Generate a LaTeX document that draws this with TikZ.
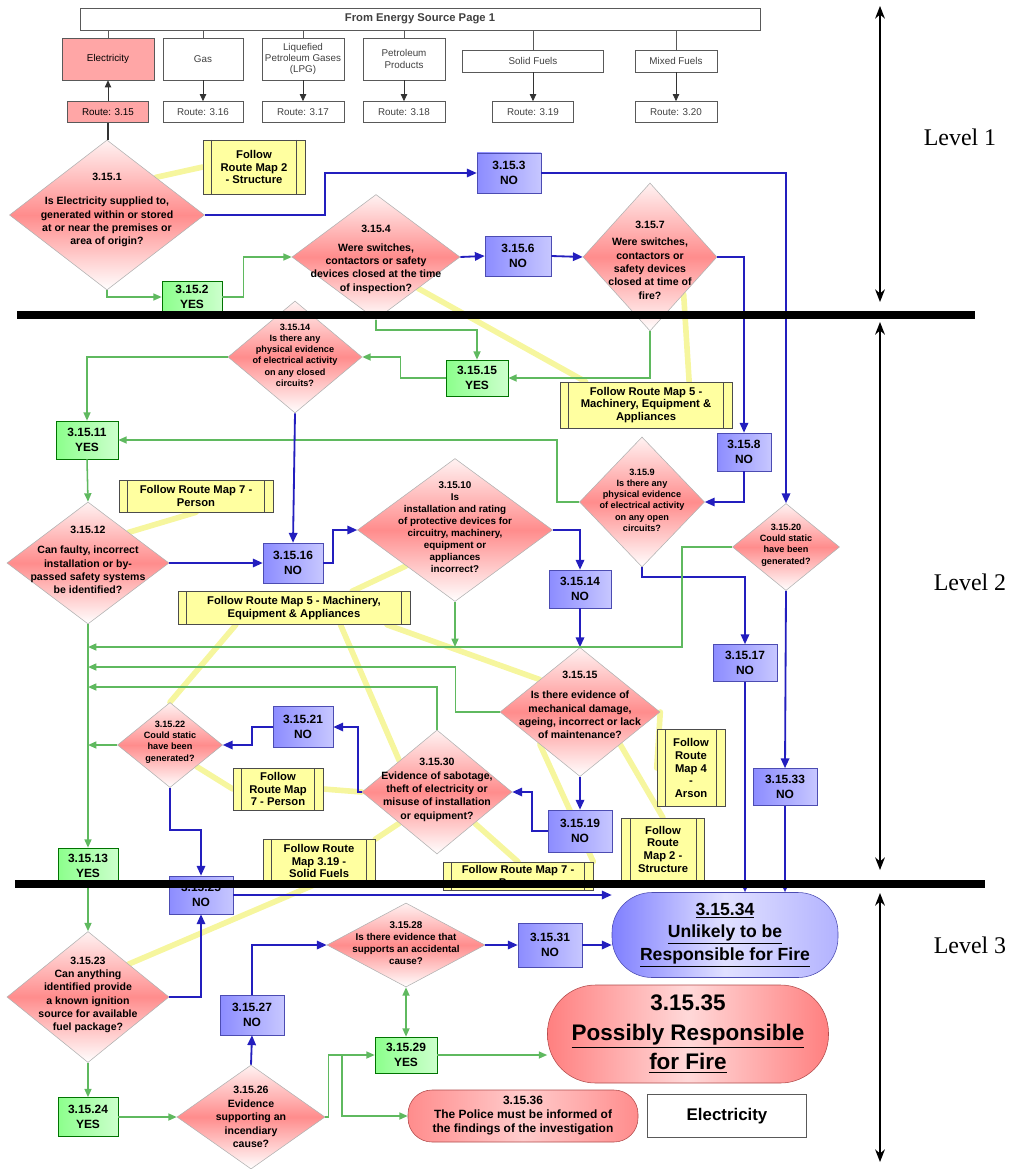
\documentclass[tikz,border=0pt]{standalone}
\usepackage{fontspec}
\setmainfont{Liberation Sans}
\newfontfamily\serifface{Liberation Serif}
\usepackage{tikz}
\usetikzlibrary{shapes.geometric, arrows.meta, calc, backgrounds}

\definecolor{lineblue}{RGB}{35,30,190}
\definecolor{linegreen}{RGB}{95,185,95}
\definecolor{mapyellow}{RGB}{255,255,160}
\definecolor{glowyellow}{RGB}{235,235,40}
\tikzset{sz/.style 2 args={minimum width=#1*0.025cm, minimum height=#2*0.025cm}}

\begin{document}
\begin{tikzpicture}[x=0.025cm, y=-0.025cm]
\tikzstyle{dia}=[diamond, draw=gray!60, inner sep=0pt, top color=red!5, bottom color=white, middle color=red!45]
\tikzstyle{dtext}=[align=center, inner sep=0pt, font=\fontsize{7.5}{9.5}\selectfont\bfseries]
\tikzstyle{srcbox}=[draw=gray!70!black, fill=white, inner sep=1pt, align=center, text=black!75, font=\fontsize{7}{8}\selectfont]
\tikzstyle{nobox}=[draw=gray!60!blue, left color=blue!45!white, right color=blue!22!white, inner sep=0pt, align=center, font=\fontsize{8.5}{10.5}\selectfont\bfseries]
\tikzstyle{yesbox}=[draw=green!45!black, left color=green!45!white, right color=green!20!white, inner sep=0pt, align=center, font=\fontsize{8.5}{10.5}\selectfont\bfseries]
\tikzstyle{mapbox}=[draw=gray!60!black, fill=mapyellow, inner sep=0pt, align=center, font=\fontsize{8}{9}\selectfont\bfseries, path picture={\draw[gray!60!black] ([xshift=6pt]path picture bounding box.north west) -- ([xshift=6pt]path picture bounding box.south west) ([xshift=-6pt]path picture bounding box.north east) -- ([xshift=-6pt]path picture bounding box.south east);}]
\tikzstyle{bl}=[draw=lineblue, line width=1.3pt, -{Triangle[length=7pt,width=6pt]}]
\tikzstyle{gr}=[draw=linegreen, line width=1.1pt, -{Triangle[length=6pt,width=5pt]}]
\tikzstyle{yl}=[draw=glowyellow, line width=4pt, opacity=0.45, line cap=round]
\tikzstyle{blk}=[draw=black!80, line width=0.6pt, -{Triangle[length=5pt,width=4.5pt]}]
\tikzstyle{lvl}=[font=\serifface\fontsize{17}{20}\selectfont]
\useasboundingbox (0,0) rectangle (1022,1169);

\node[srcbox, sz={680}{22}, font=\fontsize{8}{9}\selectfont\bfseries](src) at (420,19) {From Energy Source Page 1};
\node[srcbox, sz={92}{42}, fill=red!35, text=black](elec) at (108,59) {Electricity};
\node[srcbox, sz={80}{42}](gas) at (203,59) {Gas};
\node[srcbox, sz={82}{42}](lpg) at (303,59) {Liquefied\\Petroleum Gases\\(LPG)};
\node[srcbox, sz={82}{42}](petro) at (404,59) {Petroleum\\Products};
\node[srcbox, sz={141}{22}](solid) at (533,61) {Solid Fuels};
\node[srcbox, sz={82}{22}](mixed) at (676,61) {Mixed Fuels};
\node[srcbox, sz={81}{21}, fill=red!35, text=black](r15) at (108,112) {Route: 3.15};
\node[srcbox, sz={80}{21}](r16) at (203,112) {Route: 3.16};
\node[srcbox, sz={82}{21}](r17) at (303,112) {Route: 3.17};
\node[srcbox, sz={82}{21}](r18) at (404,112) {Route: 3.18};
\node[srcbox, sz={81}{21}](r19) at (533,112) {Route: 3.19};
\node[srcbox, sz={82}{21}](r20) at (676,112) {Route: 3.20};

\node[dia, sz={195}{150}](q1) at (107,215) {};
\node[dtext](q1t) at (107,210) {3.15.1\\[8pt]Is Electricity supplied to,\\generated within or stored\\at or near the premises or\\area of origin?};
\node[dia, sz={168}{125}](q4) at (376,257) {};
\node[dtext](q4t) at (376,259) {3.15.4\\[4pt]Were switches,\\contactors or safety\\devices closed at the time\\of inspection?};
\node[dia, sz={134}{148}](q7) at (650,257) {};
\node[dtext](q7t) at (650,260) {3.15.7\\[3pt]Were switches,\\contactors or\\safety devices\\closed at time of\\fire?};
\node[dia, sz={134}{112}](q14) at (295,357) {};
\node[dtext, font=\fontsize{6.5}{8}\selectfont\bfseries](q14t) at (295,355) {3.15.14\\Is there any\\physical evidence\\of electrical activity\\on any closed\\circuits?};
\node[dia, sz={125}{130}](q9) at (642,502) {};
\node[dtext, font=\fontsize{6.5}{8}\selectfont\bfseries](q9t) at (642,500) {3.15.9\\Is there any\\physical evidence\\of electrical activity\\on any open\\circuits?};
\node[dia, sz={162}{122}](q12) at (88,563) {};
\node[dtext](q12t) at (88,560) {3.15.12\\[5pt]Can faulty, incorrect\\installation or by-\\passed safety systems\\be identified?};
\node[dia, sz={195}{143}](q10) at (455,530) {};
\node[dtext, font=\fontsize{7}{8.6}\selectfont\bfseries](q10t) at (455,527) {3.15.10\\Is\\installation and rating\\of protective devices for\\circuitry, machinery,\\equipment or\\appliances\\incorrect?};
\node[dia, sz={107}{87}](q20) at (786,547) {};
\node[dtext, font=\fontsize{6.5}{8}\selectfont\bfseries](q20t) at (786,545) {3.15.20\\Could static\\have been\\generated?};
\node[dia, sz={160}{129}](q15) at (580,712) {};
\node[dtext](q15t) at (580,705) {3.15.15\\[5pt]Is there evidence of\\mechanical damage,\\ageing, incorrect or lack\\of maintenance?};
\node[dia, sz={105}{85}](q22) at (170,745) {};
\node[dtext, font=\fontsize{6.5}{8}\selectfont\bfseries](q22t) at (170,742) {3.15.22\\Could static\\have been\\generated?};
\node[dia, sz={150}{124}](q30) at (437,792) {};
\node[dtext](q30t) at (437,790) {3.15.30\\Evidence of sabotage,\\theft of electricity or\\misuse of installation\\or equipment?};
\node[dia, sz={162}{131}](q23) at (88,997) {};
\node[dtext](q23t) at (88,995) {3.15.23\\Can anything\\identified provide\\a known ignition\\source for available\\fuel package?};
\node[dia, sz={158}{84}](q28) at (406,945) {};
\node[dtext, font=\fontsize{7}{8.6}\selectfont\bfseries](q28t) at (406,943) {3.15.28\\Is there evidence that\\supports an accidental\\cause?};
\node[dia, sz={148}{104}](q26) at (251,1117) {};
\node[dtext](q26t) at (251,1117) {3.15.26\\Evidence\\supporting an\\incendiary\\cause?};

\node[nobox, sz={64}{40}](n3) at (509,173) {3.15.3\\NO};
\node[yesbox, sz={60}{32}](y2) at (192,297) {3.15.2\\YES};
\node[nobox, sz={66}{40}](n6) at (518,256) {3.15.6\\NO};
\node[yesbox, sz={62}{36}](y15) at (477,378) {3.15.15\\YES};
\node[nobox, sz={54}{38}](n8) at (744,452) {3.15.8\\NO};
\node[yesbox, sz={62}{38}](y11) at (87,440) {3.15.11\\YES};
\node[nobox, sz={60}{40}](n16) at (293,563) {3.15.16\\NO};
\node[nobox, sz={62}{38}](n14) at (580,589) {3.15.14\\NO};
\node[nobox, sz={64}{37}](n17) at (745,663) {3.15.17\\NO};
\node[nobox, sz={64}{37}](n33) at (785,787) {3.15.33\\NO};
\node[nobox, sz={60}{41}](n21) at (303,727) {3.15.21\\NO};
\node[nobox, sz={64}{42}](n19) at (580,831) {3.15.19\\NO};
\node[yesbox, sz={60}{36}](y13) at (88,866) {3.15.13\\YES};
\node[nobox, sz={64}{38}](n25) at (201,895) {3.15.25\\NO};
\node[nobox, sz={64}{40}](n27) at (252,1015) {3.15.27\\NO};
\node[nobox, sz={64}{44}](n31) at (550,945) {3.15.31\\NO};
\node[yesbox, sz={62}{36}](y29) at (406,1055) {3.15.29\\YES};
\node[yesbox, sz={60}{39}](y24) at (88,1117) {3.15.24\\YES};

\node[mapbox, sz={102}{54}](map2a) at (254,167) {Follow\\Route Map 2\\- Structure};
\node[mapbox, sz={172}{46}](map5a) at (646,405) {Follow Route Map 5 -\\Machinery, Equipment \&\\Appliances};
\node[mapbox, sz={154}{32}](map7a) at (196,496) {Follow Route Map 7 -\\Person};
\node[mapbox, sz={232}{33}](map5b) at (294,608) {Follow Route Map 5 - Machinery,\\Equipment \& Appliances};
\node[mapbox, sz={90}{42}](map7b) at (278,789) {Follow\\Route Map\\7 - Person};
\node[mapbox, sz={68}{77}](map4) at (691,768) {Follow\\Route\\Map 4\\-\\Arson};
\node[mapbox, sz={83}{62}](map2b) at (663,849) {Follow\\Route\\Map 2 -\\Structure};
\node[mapbox, sz={112}{43}](map319) at (319,861) {Follow Route\\Map 3.19 -\\Solid Fuels};
\node[mapbox, sz={150}{28}](map7c) at (518,876) {Follow Route Map 7 -\\Person};

\node[draw=blue!40!gray, rounded corners=1cm, left color=blue!50!white, right color=blue!30!white, middle color=blue!12, sz={226}{85}, align=center, inner sep=0pt, font=\fontsize{12.5}{16}\selectfont\bfseries](end34) at (725,935) {\underline{3.15.34}\\\underline{Unlikely to be}\\\underline{Responsible for Fire}};
\node[draw=red!40!gray, rounded corners=1.2cm, left color=red!50!white, right color=red!50!white, middle color=red!15, sz={281}{98}, align=center, inner sep=0pt, font=\fontsize{16}{21}\selectfont\bfseries](end35) at (688,1034) {3.15.35\\\underline{Possibly Responsible}\\\underline{for Fire}};
\node[draw=red!40!gray, rounded corners=0.6cm, left color=red!45!white, right color=red!45!white, middle color=red!20, sz={230}{52}, align=center, inner sep=0pt, font=\fontsize{8.5}{10}\selectfont\bfseries](end36) at (523,1116) {3.15.36\\The Police must be informed of\\the findings of the investigation};
\node[draw=gray!70!black, fill=white, sz={159}{43}, font=\fontsize{12}{14}\selectfont\bfseries](key) at (727,1116) {Electricity};

\coordinate (t1) at (88,647);
\coordinate (t2) at (88,667);
\coordinate (t3) at (88,687);
\coordinate (t4) at (88,745);
\coordinate (sp) at (342,1055);

\begin{scope}[on background layer]
\draw[yl] (q1.north east) -- (map2a.west);
\draw[yl] (q4.south east) -- ($(map5a.north west)!0.15!(map5a.north east)$);
\draw[yl] (q7.south east) -- ($(map5a.north)!0.5!(map5a.north east)$);
\draw[yl] (q12.north east) -- (map7a.south);
\draw[yl] (q10.south west) -- ($(map5b.north)!0.5!(map5b.north east)$);
\draw[yl] ($(map5b.south)!0.5!(map5b.south west)$) -- (q22.north);
\draw[yl] ($(map5b.south)!0.4!(map5b.south east)$) -- (q30.north west);
\draw[yl] ($(map5b.south east)!0.2!(map5b.south)$) -- (q15.north west);
\draw[yl] (q22.south east) -- (map7b.west);
\draw[yl] (q30.west) -- (map7b.east);
\draw[yl] (q30.south west) -- (map319.north east);
\draw[yl] (q30.south east) -- (map7c.north);
\draw[yl] (q15.south west) -- (map7c.north east);
\draw[yl] (q15.east) -- (map4.west);
\draw[yl] (q15.south east) -- (map2b.north);
\draw[yl] (q23.north east) -- (map319.south);
\end{scope}

\foreach \b in {elec,gas,lpg,petro,solid,mixed} \draw[gray!70!black] (src.south -| \b.north) -- (\b.north);
\foreach \a/\b in {gas/r16,lpg/r17,petro/r18,solid/r19,mixed/r20} \draw[blk] (\a) -- (\b);
\draw[blk] (r15) -- (elec);
\draw[draw=black!80, line width=1.2pt] (r15.south) -- (r15.south |- q1.north);

\draw[bl] (q1.east) -- ++(120,0) |- (n3.west);
\draw[bl] (n3.east) -| (q20.north);
\draw[gr] (q1.south) |- (y2.west);
\draw[gr] (y2.east) -- ++(21,0) |- (q4.west);
\draw[bl] (q4.east) -- (n6.west);
\draw[bl] (n6.east) -- (q7.west);
\draw[bl] (q7.east) -| (n8.north);
\draw[bl] (n8.south) |- (q9.east);
\draw[gr] (q7.south) |- (y15.east);
\draw[gr] (q4.south) -- ++(0,10) -| (y15.north);
\draw[gr] (y15.west) -- ++(-45,0) |- (q14.east);
\draw[gr] (q14.west) -| (y11.north);
\draw[gr] (q9.west) -- ++(-22,0) |- (y11.east);
\draw[gr] (y11.south) -- (q12.north);
\draw[bl] (q12.east) -- (n16.west);
\draw[bl] (q14.south) -- (n16.north);
\draw[bl] (n16.east) -- ++(10,0) |- (q10.west);
\draw[bl] (q10.east) -| (n14.north);
\draw[bl] (n14.south) -- (q15.north);
\draw[bl] (q9.south) -- ++(0,10) -| (n17.north);
\draw[bl] (n17.south) -- (n17.south |- end34.north);
\draw[bl] (q20.south) -- (n33.north);
\draw[bl] (n33.south) -- (n33.south |- end34.north);
\draw[gr] (q20.west) -- ++(-50,0) |- (t1);
\draw[gr] (q10.south) -- (q10.south |- t1);
\draw[gr] (q15.west) -- ++(-44,0) |- (t2);
\draw[gr] (q30.north) |- (t3);
\draw[gr] (q22.west) -- (t4);
\draw[gr] (q12.south) -- (y13.north);
\draw[bl] (q30.west) -- ++(-4,0) |- (n21.east);
\draw[bl] (n21.west) -- ++(-21,0) |- (q22.east);
\draw[bl] (q15.south) -- (n19.north);
\draw[bl] (n19.west) -- ++(-16,0) |- (q30.east);
\draw[bl] (q22.south) -- ++(0,42) -| (n25.north);
\draw[bl] (n25.east) -- (end34.north west |- n25.east);
\draw[bl] (q23.east) -| (n25.south);
\draw[gr] (y13.south) -- (q23.north);
\draw[gr] (q23.south) -- (y24.north);
\draw[gr] (y24.east) -- (q26.west);
\draw[bl] (q26.north) -- (n27.south);
\draw[bl] (n27.north) |- (q28.west);
\draw[bl] (q28.east) -- (n31.west);
\draw[bl] (n31.east) -- (n31.east -| end34.west);
\draw[gr, {Triangle[length=6pt,width=5pt]}-{Triangle[length=6pt,width=5pt]}] (q28.south) -- (y29.north);
\draw[gr] (q26.east) -- ++(3,0) |- (y29.west);
\draw[gr] (sp) |- (end36.west);
\draw[gr] (y29.east) -- (y29.east -| end35.west);

\draw[line width=0.2cm] (17,315) -- (975,315);
\draw[line width=0.2cm] (15,884) -- (985,884);
\draw[{Stealth[length=9pt,width=7pt]}-{Stealth[length=9pt,width=7pt]}, line width=0.9pt] (880,6) -- (880,302);
\draw[{Stealth[length=9pt,width=7pt]}-{Stealth[length=9pt,width=7pt]}, line width=0.9pt] (880,322) -- (880,870);
\draw[{Stealth[length=9pt,width=7pt]}-{Stealth[length=9pt,width=7pt]}, line width=0.9pt] (880,893) -- (880,1162);
\node[lvl](lv1) at (960,137) {Level 1};
\node[lvl](lv2) at (970,582) {Level 2};
\node[lvl](lv3) at (970,945) {Level 3};
\end{tikzpicture}
\end{document}
